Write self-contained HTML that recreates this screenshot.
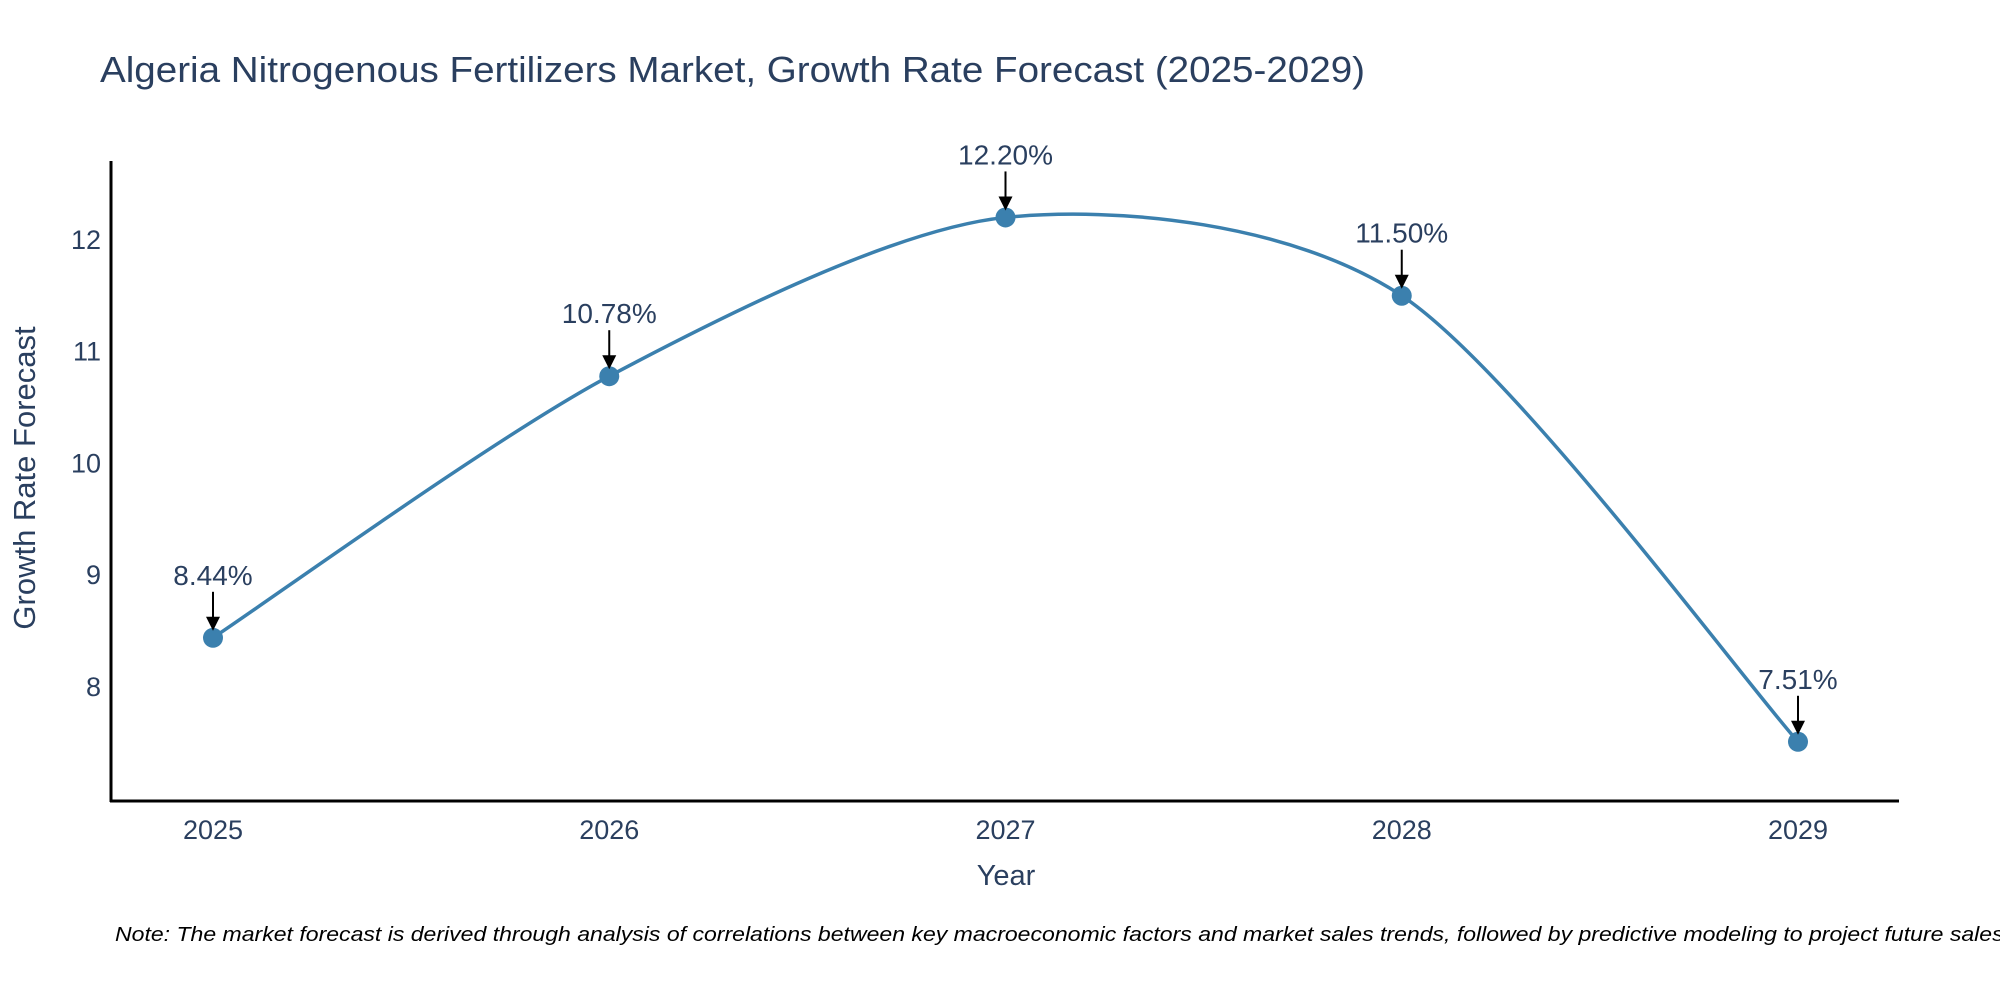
<!DOCTYPE html>
<html><head><meta charset="utf-8"><style>
html,body{margin:0;padding:0;background:#fff;overflow:hidden}
svg{display:block;font-family:"Liberation Sans",sans-serif}
</style></head><body>
<svg id="chart" width="2000" height="1000" viewBox="0 0 2000 1000">
<text x="100" y="82" font-size="36" fill="#2a3f5f" textLength="1265" lengthAdjust="spacingAndGlyphs">Algeria Nitrogenous Fertilizers Market, Growth Rate Forecast (2025-2029)</text>
<g id="yticks"></g>
<g id="xticks"></g>
<path id="curve" fill="none" stroke="#3b80ae" stroke-width="3.5"/>
<g id="points"></g>
<g id="annots"></g>
<line x1="111" y1="161" x2="111" y2="802" stroke="#000" stroke-width="3"/>
<line x1="110" y1="801" x2="1899" y2="801" stroke="#000" stroke-width="3"/>
<text x="35" y="478" font-size="31" fill="#2a3f5f" text-anchor="middle" transform="rotate(-90 35 478)">Growth Rate Forecast</text>
<text x="1006" y="885" font-size="29" fill="#2a3f5f" text-anchor="middle">Year</text>
<text x="115" y="941" font-size="20" font-style="italic" fill="#000" textLength="1895" lengthAdjust="spacingAndGlyphs">Note: The market forecast is derived through analysis of correlations between key macroeconomic factors and market sales trends, followed by predictive modeling to project future sales.</text>
</svg>
<script>
const years = ["2025","2026","2027","2028","2029"];
const values = [8.44, 10.78, 12.20, 11.50, 7.51];
const labels = ["8.44%","10.78%","12.20%","11.50%","7.51%"];
const yTicks = [8, 9, 10, 11, 12];

const NS = "http://www.w3.org/2000/svg";
const xPos = i => 213 + i * (1798 - 213) / (years.length - 1);
const yPos = v => 687 - (v - 8) * 111.8;
function mk(tag, attrs, parent, txt) {
  const e = document.createElementNS(NS, tag);
  for (const k in attrs) e.setAttribute(k, attrs[k]);
  if (txt !== undefined) e.textContent = txt;
  parent.appendChild(e);
  return e;
}
const yt = document.getElementById('yticks');
yTicks.forEach(t => {
  const e = mk('text', {x: 101, y: yPos(t) + 9, 'font-size': 27, fill: '#2a3f5f', 'text-anchor': 'end'}, yt, String(t));
  
  
});
const xt = document.getElementById('xticks');
years.forEach((y, i) => {
  const e = mk('text', {x: xPos(i), y: 839, 'font-size': 27, fill: '#2a3f5f', 'text-anchor': 'middle'}, xt, y);
  
  
});
const P = values.map((v, i) => [xPos(i), yPos(v)]);
const k = 0.14;
let d = `M${P[0][0]},${P[0][1]}`;
for (let i = 0; i < P.length - 1; i++) {
  const p0 = P[i - 1] || P[i], p1 = P[i], p2 = P[i + 1], p3 = P[i + 2] || P[i + 1];
  const c1 = [p1[0] + (p2[0] - p0[0]) * k, p1[1] + (p2[1] - p0[1]) * k];
  const c2 = [p2[0] - (p3[0] - p1[0]) * k, p2[1] - (p3[1] - p1[1]) * k];
  d += ` C${c1[0]},${c1[1]} ${c2[0]},${c2[1]} ${p2[0]},${p2[1]}`;
}
document.getElementById('curve').setAttribute('d', d);
const pts = document.getElementById('points');
const an = document.getElementById('annots');
values.forEach((v, i) => {
  const x = xPos(i), y = yPos(v);
  const c = mk('circle', {cx: x, cy: y, r: 10, fill: '#3b80ae'}, pts);
  
  
  const l = mk('line', {x1: x, y1: y - 46, x2: x, y2: y - 20, stroke: '#000', 'stroke-width': 2}, an);
  
  
  const h = mk('polygon', {points: `${x - 7},${y - 21} ${x + 7},${y - 21} ${x},${y - 7}`, fill: '#000'}, an);
  
  
  const t = mk('text', {x: x, y: y - 53, 'font-size': 28, fill: '#2a3f5f', 'text-anchor': 'middle'}, an, labels[i]);
  
  
});
</script>
</body></html>
